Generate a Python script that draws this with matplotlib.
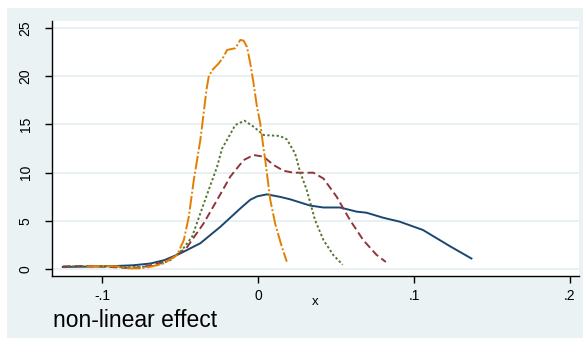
import matplotlib
matplotlib.use("Agg")
import matplotlib.pyplot as plt
from matplotlib.patches import Rectangle

plt.rcParams['font.family'] = ['Liberation Sans', 'DejaVu Sans']

blue_x = [-0.1257, -0.11, -0.095, -0.08, -0.069, -0.06, -0.0496, -0.0369, -0.0241, -0.0113, -0.0049,
          -0.0005, 0.0057, 0.0142, 0.0206, 0.0334, 0.042, 0.0526, 0.0633, 0.0696, 0.0803, 0.0909,
          0.1058, 0.1229, 0.1374]
blue_y = [0.25, 0.28, 0.32, 0.42, 0.6, 0.95, 1.66, 2.7, 4.4, 6.3, 7.2, 7.55, 7.76, 7.5, 7.25, 6.6,
          6.4, 6.4, 5.97, 5.86, 5.34, 4.93, 4.07, 2.41, 1.07]

maroon_x = [-0.125, -0.11, -0.095, -0.085, -0.075, -0.069, -0.06, -0.0525, -0.0454, -0.0348,
            -0.0262, -0.0177, -0.0092, -0.0028, 0.0036, 0.010, 0.0164, 0.0228, 0.0355, 0.042,
            0.0505, 0.059, 0.0675, 0.076, 0.082]
maroon_y = [0.3, 0.35, 0.25, 0.15, 0.2, 0.4, 0.8, 1.4, 2.3, 4.76, 7.17, 9.6, 11.3, 11.83, 11.66,
            10.8, 10.2, 10.0, 10.0, 9.4, 7.5, 5.1, 3.03, 1.5, 0.76]

green_x = [-0.122, -0.11, -0.095, -0.085, -0.075, -0.066, -0.056, -0.0486, -0.0422, -0.0369,
           -0.0316, -0.0262, -0.023, -0.0198, -0.0145, -0.0086, -0.0028, 0.0036, 0.0142, 0.0185,
           0.0238, 0.027, 0.0313, 0.0366, 0.042, 0.0483, 0.0543]
green_y = [0.3, 0.3, 0.35, 0.2, 0.25, 0.35, 0.96, 2.0, 3.37, 5.8, 8.2, 10.6, 12.5, 13.4, 14.94,
           15.38, 14.76, 13.9, 13.8, 13.45, 12.0, 10.1, 8.2, 5.1, 3.03, 1.48, 0.48]

orange_x = [-0.11, -0.1, -0.09, -0.083, -0.075, -0.0688, -0.0603, -0.0518, -0.0475, -0.0443,
            -0.0411, -0.0369, -0.0348, -0.033, -0.0316, -0.0294, -0.0252, -0.022, -0.0198,
            -0.0145, -0.0113, -0.0092, -0.007, -0.0049, -0.0028, -0.0006, 0.0015, 0.0036,
            0.0047, 0.0079, 0.011, 0.0153, 0.0185]
orange_y = [0.3, 0.35, 0.3, 0.1, 0.1, 0.27, 0.62, 1.48, 3.03, 5.45, 9.25, 13.4, 16.15, 18.56,
            19.9, 20.6, 21.3, 22.0, 22.7, 22.88, 23.74, 23.67, 23.0, 21.3, 19.25, 16.8, 15.1,
            12.5, 11.3, 7.2, 4.76, 2.34, 0.79]

x_ticks = [-0.1, 0, 0.1, 0.2]
x_labels = ["-.1", "0", ".1", ".2"]
y_ticks = [0, 5, 10, 15, 20, 25]
y_labels = ["0", "5", "10", "15", "20", "25"]

W, H = 583, 338
fig = plt.figure(figsize=(W / 100, H / 100), dpi=100)
fig.patch.set_facecolor("white")
bg = "#eaf2f3"
fig.patches.append(Rectangle((7 / W, 0), 1 - 7 / W, 1 - 8 / H, transform=fig.transFigure,
                             facecolor=bg, edgecolor="none", zorder=-10))

ax = fig.add_axes([52 / W, 62 / H, (579 - 52) / W, (276 - 20.7) / H])
ax.set_zorder(1)
ax.set_facecolor("white")
ax.set_xlim(-0.132, 0.2058)
ax.set_ylim(-0.69, 25.73)

for s in ["top", "right"]:
    ax.spines[s].set_visible(False)
for s in ["left", "bottom"]:
    ax.spines[s].set_color("black")
    ax.spines[s].set_linewidth(1.0)

ax.set_yticks(y_ticks)
ax.set_yticklabels(y_labels, rotation=90, va="center")
ax.set_xticks(x_ticks)
ax.set_xticklabels(x_labels)
ax.tick_params(axis="both", direction="out", length=5, width=1.0, colors="black",
               labelsize=10)
ax.tick_params(axis="x", pad=4)
ax.tick_params(axis="y", pad=9)
ax.grid(axis="y", color="#e4eef0", linewidth=1.2)
ax.set_axisbelow(True)

lw = 1.4
ax.plot(blue_x, blue_y, color="#1a476f", lw=lw, solid_capstyle="butt")
ax.plot(maroon_x, maroon_y, color="#90353b", lw=lw, linestyle=(0, (4, 2)))
ax.plot(green_x, green_y, color="#55752f", lw=lw, linestyle=(0, (1.2, 1.2)))
ax.plot(orange_x, orange_y, color="#e37e00", lw=lw, linestyle=(0, (7, 1.2, 1, 1.2)))

ax.set_xlabel("x", fontsize=9.5)
ax.xaxis.set_label_coords((315 - 52) / (579 - 52), -(301.7 - 276) / (276 - 20.7))
ax.xaxis.label.set_va("center")

fig.text(53 / W, 1 - 326.7 / H, "non-linear effect", fontsize=16.5, ha="left",
         va="baseline", color="black", zorder=5)

fig.savefig("out.png", dpi=100, facecolor=fig.get_facecolor())
